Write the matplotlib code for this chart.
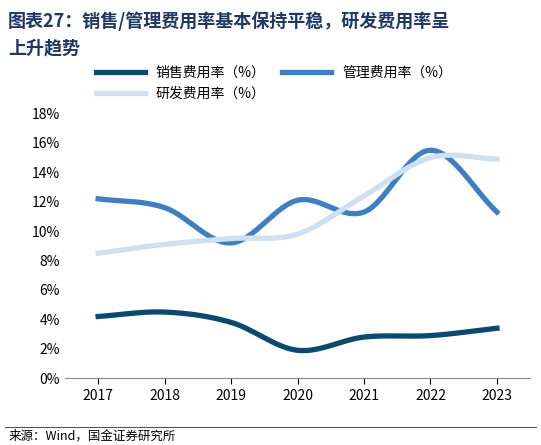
import numpy as np
import matplotlib.pyplot as plt

plt.rcParams['font.family'] = ['Noto Sans CJK SC', 'DejaVu Sans']

years = [2017, 2018, 2019, 2020, 2021, 2022, 2023]
sales = [4.2, 4.5, 3.8, 1.9, 2.8, 2.9, 3.4]
mgmt = [12.2, 11.6, 9.2, 12.1, 11.3, 15.5, 11.3]
rnd = [8.5, 9.1, 9.5, 9.8, 12.4, 15.0, 14.9]


def smooth(x, y, n=30):
    # Catmull-Rom style cubic Hermite through the points
    x = np.asarray(x, float)
    y = np.asarray(y, float)
    m = np.gradient(y, x)
    xs, ys = [], []
    for i in range(len(x) - 1):
        h = x[i + 1] - x[i]
        t = np.linspace(0, 1, n)
        h00 = 2 * t**3 - 3 * t**2 + 1
        h10 = t**3 - 2 * t**2 + t
        h01 = -2 * t**3 + 3 * t**2
        h11 = t**3 - t**2
        xs.append(x[i] + t * h)
        ys.append(h00 * y[i] + h10 * h * m[i] + h01 * y[i + 1] + h11 * h * m[i + 1])
    return np.concatenate(xs), np.concatenate(ys)


fig = plt.figure(figsize=(5.41, 4.45), dpi=100)
ax = fig.add_axes([0.12, 0.15, 0.86, 0.595])

lines = {}
for key, y, c, lab in [('s', sales, '#0b4a6f', '销售费用率（%）'),
                       ('m', mgmt, '#3f7fc1', '管理费用率（%）'),
                       ('r', rnd, '#cfe0f1', '研发费用率（%）')]:
    sx, sy = smooth(years, y)
    lines[key], = ax.plot(sx, sy, color=c, lw=3.8, label=lab)

ax.set_ylim(0, 18)
ax.set_yticks(range(0, 19, 2))
ax.set_yticklabels([f'{v}%' for v in range(0, 19, 2)])
ax.set_xlim(2016.5, 2023.5)
ax.set_xticks(years)
ax.tick_params(labelsize=10, length=0)
ax.tick_params(axis='x', length=4, direction='out')
for s in ['top', 'right', 'left']:
    ax.spines[s].set_visible(False)
ax.spines['bottom'].set_color('#888888')

h = [lines['s'], lines['r'], lines['m']]
ax.legend(h, [l.get_label() for l in h], loc='lower left',
          bbox_to_anchor=(0.04, 1.0), ncol=2, frameon=False,
          fontsize=10, handlelength=3.5, columnspacing=1.2)

fig.text(0.015, 0.975, '图表27：销售/管理费用率基本保持平稳，研发费用率呈\n上升趋势',
         fontsize=13, fontweight='bold', fontstyle='italic', color='#1f3864',
         va='top', linespacing=1.5)
fig.add_artist(plt.Line2D([0.01, 0.99], [0.04, 0.04], color='#555555', lw=0.8))
fig.text(0.015, 0.005, '来源：Wind，国金证券研究所', fontsize=9, va='bottom')

fig.savefig('out.png', dpi=100)
